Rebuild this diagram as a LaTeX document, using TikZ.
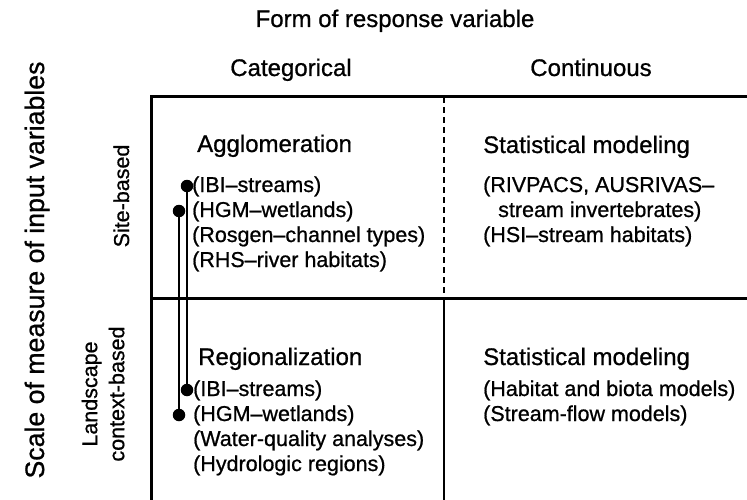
\documentclass[tikz,border=0pt]{standalone}
\usepackage{fontspec}
\setmainfont{Liberation Sans}[RawFeature={embolden=0.8}]
\usetikzlibrary{positioning}

\tikzset{
	head/.style={font=\fontsize{24}{28}\selectfont, inner sep=0pt},
	item/.style={font=\fontsize{21.5}{25}\selectfont, inner sep=0pt, anchor=base west},
	side/.style={font=\fontsize{21.5}{27}\selectfont, inner sep=0pt, rotate=90, align=center},
	frame/.style={line width=3pt},
	pindot/.style={circle, fill, inner sep=0pt, minimum size=12.5pt},
	pinline/.style={line width=2pt},
}

\begin{document}
\begin{tikzpicture}[x=1pt,y=-1pt]
			\useasboundingbox (0,0) rectangle (747,500);

			% frame of the table
			\draw[frame] (747,97) -- (151,97) -- (151,500);
			\draw[frame] (151,298) -- (747,298);
			\draw[line width=2pt, dash pattern=on 6pt off 4pt] (444,97) -- (444,298);
			\draw[line width=2.5pt] (444,298) -- (444,500);

			% column headings
			\node[head, anchor=base] (form) at (395,27) {Form of response variable};
			\node[head, anchor=base] (categ) at (291,76) {Categorical};
			\node[head, anchor=base] (contin) at (591,76) {Continuous};

			% row headings
			\node[head, font=\fontsize{26.7}{30}\selectfont, rotate=90, anchor=base] (scale) at (44,270) {Scale of measure of input variables};
			\node[side, anchor=base] (site) at (129,196) {Site-based};
			\node[side] (land) at (103,394) {Landscape\\context-based};

			% site-based, categorical
			\node[head, anchor=base west] (agglo) at (197,152) {Agglomeration};
			\node[item] (ibiA) at (192,192) {(IBI--streams)};
			\node[item] (hgmA) at (192,217) {(HGM--wetlands)};
			\node[item] (rosgen) at (192,242) {(Rosgen--channel types)};
			\node[item] (rhs) at (192,267) {(RHS--river habitats)};

			% site-based, continuous
			\node[head, anchor=base west] (statA) at (483,153) {Statistical modeling};
			\node[item] (rivpacs) at (483,192) {(RIVPACS, AUSRIVAS--};
			\node[item] (invert) at (498,217) {stream invertebrates)};
			\node[item] (hsi) at (483,242) {(HSI--stream habitats)};

			% landscape, categorical
			\node[head, anchor=base west] (region) at (198,365) {Regionalization};
			\node[item] (ibiB) at (193,396) {(IBI--streams)};
			\node[item] (hgmB) at (193,421) {(HGM--wetlands)};
			\node[item] (water) at (193,446) {(Water-quality analyses)};
			\node[item] (hydro) at (193,471) {(Hydrologic regions)};

			% landscape, continuous
			\node[head, anchor=base west] (statB) at (483,365) {Statistical modeling};
			\node[item] (biota) at (483,396) {(Habitat and biota models)};
			\node[item] (flow) at (483,421) {(Stream-flow models)};

			% links between the two rows
			\node[pindot] (dotIbiA) at (187,186) {};
			\node[pindot] (dotHgmA) at (179,211) {};
			\node[pindot] (dotIbiB) at (187,390) {};
			\node[pindot] (dotHgmB) at (179,415) {};
			\draw[pinline] (dotIbiA) -- (dotIbiB);
			\draw[pinline] (dotHgmA) -- (dotHgmB);
		\end{tikzpicture}
\end{document}
